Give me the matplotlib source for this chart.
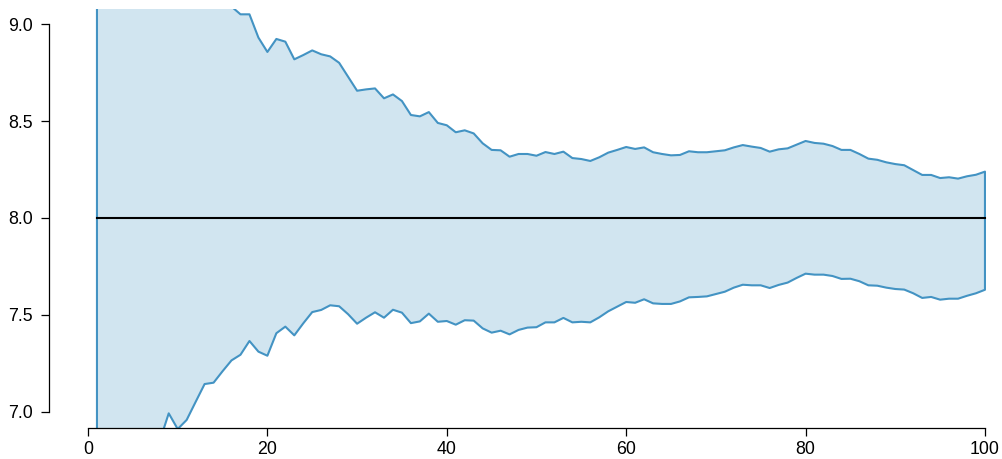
import numpy as np
import matplotlib

matplotlib.use("Agg")
import matplotlib.pyplot as plt

plt.rcParams["font.family"] = ["Liberation Sans", "DejaVu Sans"]

# ── Data: running band around the mean, one value per step ───────────────────
steps = np.arange(1, 101)

upper = [
    10.9, 10.4, 10.1, 9.9, 9.8, 9.7, 9.6, 9.5, 9.45, 9.4,
    9.3, 9.25, 9.2, 9.15, 9.11, 9.09, 9.05, 9.05, 8.93, 8.856,
    8.923, 8.909, 8.818, 8.84, 8.864, 8.844, 8.833, 8.80, 8.728, 8.656,
    8.663, 8.668, 8.617, 8.637, 8.603, 8.531, 8.524, 8.546, 8.49, 8.478,
    8.442, 8.452, 8.436, 8.385, 8.351, 8.349, 8.316, 8.33, 8.33, 8.321,
    8.34, 8.33, 8.342, 8.309, 8.304, 8.294, 8.313, 8.337, 8.351, 8.366,
    8.356, 8.364, 8.339, 8.33, 8.323, 8.325, 8.344, 8.339, 8.339, 8.344,
    8.349, 8.364, 8.376, 8.368, 8.361, 8.342, 8.354, 8.359, 8.378, 8.397,
    8.387, 8.383, 8.371, 8.351, 8.351, 8.33, 8.306, 8.30, 8.287, 8.278,
    8.272, 8.247, 8.222, 8.222, 8.206, 8.21, 8.203, 8.215, 8.223, 8.239,
]

lower = [
    5.0, 5.6, 6.0, 6.2, 6.4, 6.55, 6.7, 6.85, 6.993, 6.912,
    6.959, 7.052, 7.144, 7.151, 7.21, 7.266, 7.295, 7.366, 7.311, 7.29,
    7.406, 7.44, 7.395, 7.457, 7.515, 7.526, 7.55, 7.545, 7.504, 7.455,
    7.486, 7.514, 7.486, 7.527, 7.512, 7.458, 7.467, 7.507, 7.465, 7.469,
    7.45, 7.473, 7.471, 7.431, 7.409, 7.419, 7.40, 7.423, 7.435, 7.437,
    7.462, 7.462, 7.485, 7.462, 7.465, 7.462, 7.488, 7.519, 7.543, 7.567,
    7.563, 7.581, 7.56, 7.557, 7.557, 7.57, 7.591, 7.593, 7.596, 7.608,
    7.62, 7.641, 7.656, 7.653, 7.653, 7.639, 7.655, 7.667, 7.691, 7.713,
    7.708, 7.708, 7.701, 7.686, 7.687, 7.674, 7.653, 7.651, 7.641, 7.634,
    7.631, 7.612, 7.588, 7.593, 7.579, 7.584, 7.584, 7.599, 7.612, 7.63,
]

center = 8.0

y_ticks = [7.0, 7.5, 8.0, 8.5, 9.0]
x_ticks = [0, 20, 40, 60, 80, 100]

# ── Plot ─────────────────────────────────────────────────────────────────────
fig = plt.figure(figsize=(10.02, 4.59), dpi=100)
ax = fig.add_axes([61 / 1002, 31.5 / 459, 941 / 1002, 419 / 459])

ax.fill_between(steps, lower, upper, facecolor="#d1e5f0",
                edgecolor="#4393c3", linewidth=1.5)
ax.plot([steps[0], steps[-1]], [center, center], color="black", linewidth=1.5)

ax.set_xlim(-3.01, 101.9)
ax.set_ylim(6.92, 9.08)

ax.set_xticks(x_ticks)
ax.set_yticks(y_ticks)
ax.set_yticklabels([f"{v:.1f}" for v in y_ticks])

for side in ["top", "right"]:
    ax.spines[side].set_visible(False)
ax.spines["left"].set_position(("outward", 9))
ax.spines["left"].set_bounds(7.0, 9.0)
ax.spines["bottom"].set_bounds(0, 100)
for side in ["left", "bottom"]:
    ax.spines[side].set_linewidth(0.9)

ax.tick_params(axis="both", labelsize=12.8, length=6, width=0.9, colors="black")
ax.tick_params(axis="y", pad=5.5)
ax.tick_params(axis="x", pad=4)

fig.savefig("out.png", dpi=100)
